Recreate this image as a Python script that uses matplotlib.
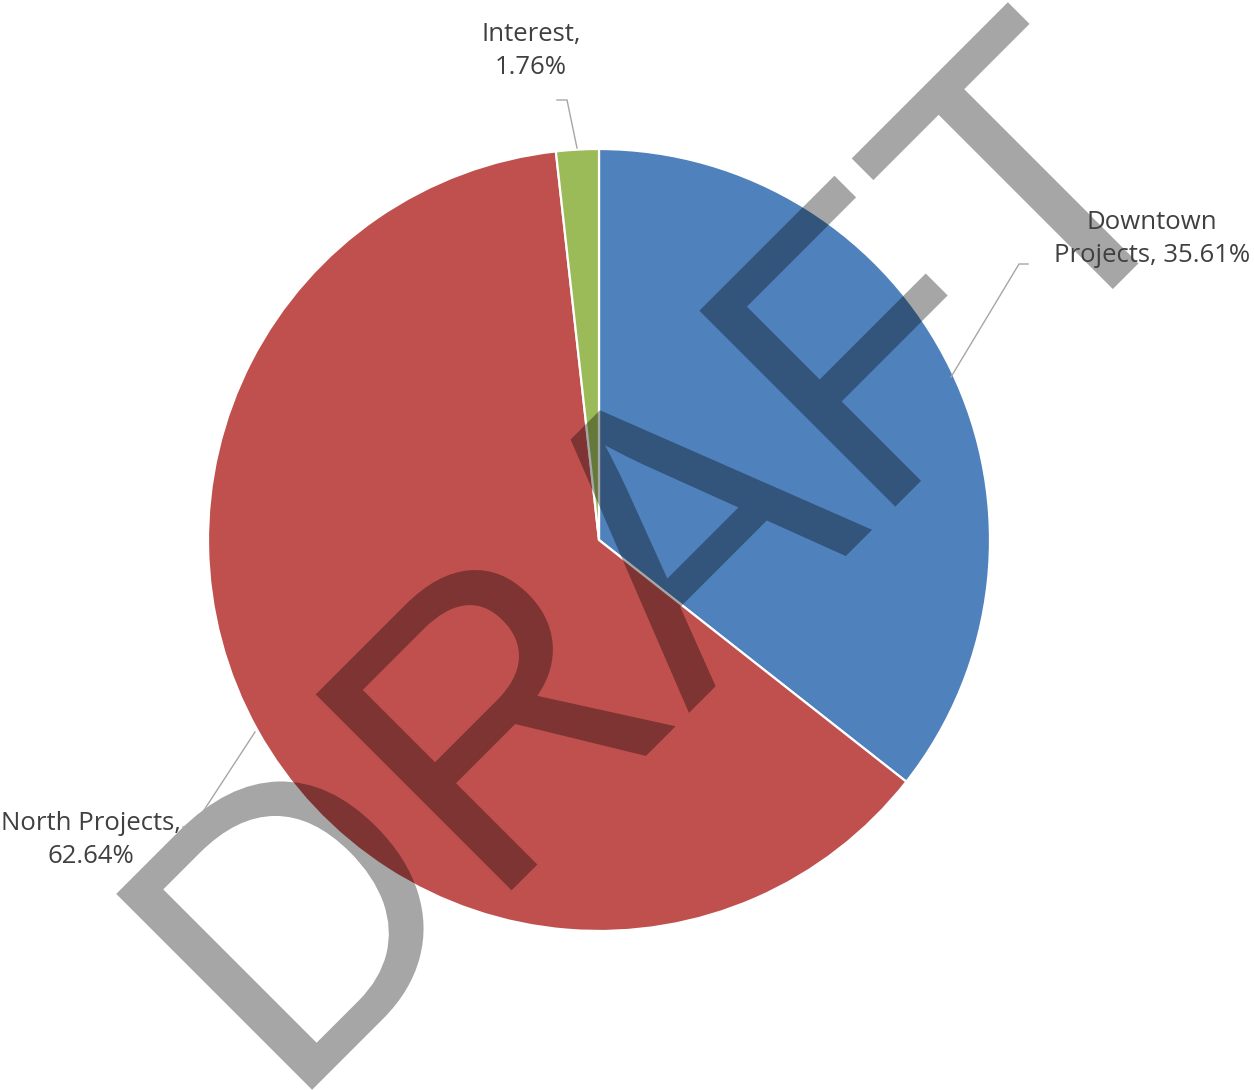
import matplotlib
matplotlib.use("Agg")
import matplotlib.pyplot as plt
from matplotlib.textpath import TextPath
from matplotlib.patches import PathPatch
from matplotlib.font_manager import FontProperties
from matplotlib.transforms import Affine2D

# Budget shares by source (percent of total)
categories = ["Downtown Projects", "North Projects", "Interest"]
shares = [35.61, 62.64, 1.76]
colors = ["#4F81BD", "#C0504D", "#9BBB59"]
label_templates = ["Downtown\nProjects, {:.2f}%", "North Projects,\n{:.2f}%", "Interest,\n{:.2f}%"]

W, H = 1254, 1090
fig = plt.figure(figsize=(W / 100, H / 100), dpi=100)
ax = fig.add_axes([0, 0, 1, 1])


def px(x, y):
    """Pixel position (origin top-left) -> data coordinates."""
    return x, H - y


cx, cy = px(599, 540)
radius = 391
ax.pie(shares, colors=colors, startangle=90, counterclock=False,
       center=(cx, cy), radius=radius,
       wedgeprops=dict(edgecolor="white", linewidth=1.6, antialiased=True))
ax.set_xlim(0, W)
ax.set_ylim(0, H)
ax.set_aspect("equal")
ax.set_axis_off()

# Diagonal "DRAFT" watermark: translucent black darkens whatever lies beneath
fp = FontProperties(family="Liberation Sans")
tp = TextPath((0, 0), "DRAFT", size=100, prop=fp)
bb = tp.get_extents()
length, cap = 1261, 277
wx, wy = px(660, 546)
tr = (Affine2D()
      .translate(-(bb.x0 + bb.width / 2), -(bb.y0 + bb.height / 2))
      .scale(length / bb.width, cap / bb.height)
      .rotate_deg(45)
      .translate(wx, wy))
ax.add_patch(PathPatch(tr.transform_path(tp), facecolor="black",
                       edgecolor="none", alpha=0.35, zorder=5))

# Leader lines
leaders = [
    [(1028, 264), (1019, 264), (951, 377)],
    [(183, 827), (193, 827), (255, 732)],
    [(557, 100), (567, 100), (577, 148)],
]
for pts in leaders:
    xs, ys = zip(*[px(*p) for p in pts])
    ax.plot(xs, ys, color="#A6A6A6", lw=1.0, zorder=6, solid_joinstyle="miter")

# Data labels (anchored at the baseline of the last line)
label_pos = [(1152, 262), (91, 863), (531, 74)]
for tmpl, val, (lx, ly) in zip(label_templates, shares, label_pos):
    x, y = px(lx, ly)
    ax.text(x, y, tmpl.format(val), ha="center", va="baseline",
            fontsize=18.5, family="Open Sans", color="#404040",
            linespacing=1.42, multialignment="center", zorder=7)

fig.savefig("out.png", dpi=100, facecolor="white")
